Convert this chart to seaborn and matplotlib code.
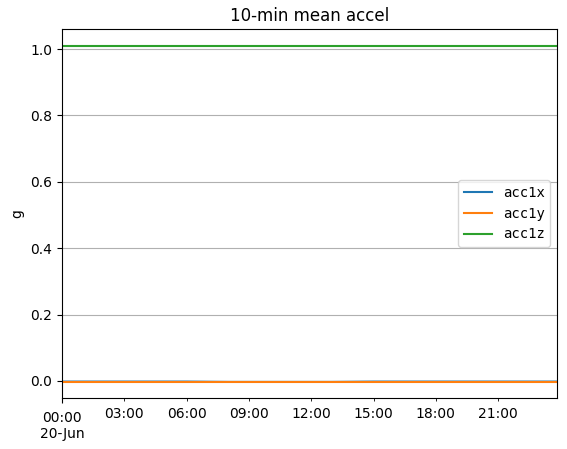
import matplotlib
matplotlib.use("Agg")
import matplotlib.pyplot as plt
import seaborn as sns
import pandas as pd

times = ["00:00", "01:00", "02:00", "03:00", "04:00", "05:00", "06:00", "07:00",
         "08:00", "09:00", "10:00", "11:00", "12:00", "13:00", "14:00", "15:00",
         "16:00", "17:00", "18:00", "19:00", "20:00", "21:00", "22:00", "23:00", "23:50"]
acc1x = [-0.002, -0.002, -0.002, -0.002, -0.002, -0.002, -0.002, -0.0025,
         -0.003, -0.003, -0.003, -0.003, -0.003, -0.003, -0.0025, -0.002,
         -0.002, -0.002, -0.002, -0.002, -0.002, -0.002, -0.002, -0.002, -0.002]
acc1y = [-0.002, -0.002, -0.002, -0.002, -0.002, -0.002, -0.002, -0.002,
         -0.002, -0.002, -0.002, -0.002, -0.002, -0.002, -0.002, -0.002,
         -0.002, -0.002, -0.002, -0.002, -0.002, -0.002, -0.002, -0.002, -0.002]
acc1z = [1.008, 1.008, 1.008, 1.008, 1.008, 1.008, 1.008, 1.008,
         1.008, 1.008, 1.008, 1.008, 1.008, 1.008, 1.008, 1.008,
         1.008, 1.008, 1.008, 1.008, 1.008, 1.008, 1.008, 1.008, 1.008]
series_names = ["acc1x", "acc1y", "acc1z"]
major_tick = "00:00"
minor_ticks = ["03:00", "06:00", "09:00", "12:00", "15:00", "18:00", "21:00"]
date_str = "2023-06-20"

idx = pd.to_datetime([f"{date_str} {t}" for t in times])
wide = pd.DataFrame({"acc1x": acc1x, "acc1y": acc1y, "acc1z": acc1z}, index=idx)
wide.index.name = "time"
long = wide.reset_index().melt(id_vars="time", var_name="series", value_name="g")

fig = plt.figure(figsize=(5.67, 4.49), dpi=100)
ax = fig.add_axes([62/567, 1 - 398/449, (557-62)/567, (398-29)/449])

sns.lineplot(data=long, x="time", y="g", hue="series", hue_order=series_names,
             palette=["#1f77b4", "#ff7f0e", "#2ca02c"], linewidth=1.5, ax=ax)

ax.set_xlim(idx[0], idx[-1])
ax.set_ylim(-0.0515, 1.0605)
ax.set_yticks([0.0, 0.2, 0.4, 0.6, 0.8, 1.0])
ax.yaxis.grid(True, color="#b0b0b0", linewidth=0.8)
ax.set_axisbelow(True)

mj = pd.to_datetime([f"{date_str} {major_tick}"])
mn = pd.to_datetime([f"{date_str} {t}" for t in minor_ticks])
ax.set_xticks(mj)
ax.set_xticklabels([major_tick + "\n" + pd.Timestamp(date_str).strftime("%d-%b")])
ax.set_xticks(mn, minor=True)
ax.set_xticklabels(minor_ticks, minor=True)
ax.tick_params(axis="x", which="major", length=3.5, pad=5.5)
ax.tick_params(axis="x", which="minor", length=2, pad=4.5)
ax.set_xlabel("")
ax.set_ylabel("g")
ax.set_title("10-min mean accel")

leg = ax.legend(loc="center right", prop={"family": "DejaVu Sans Mono"})
leg.set_title(None)

fig.savefig("out.png", dpi=100)
